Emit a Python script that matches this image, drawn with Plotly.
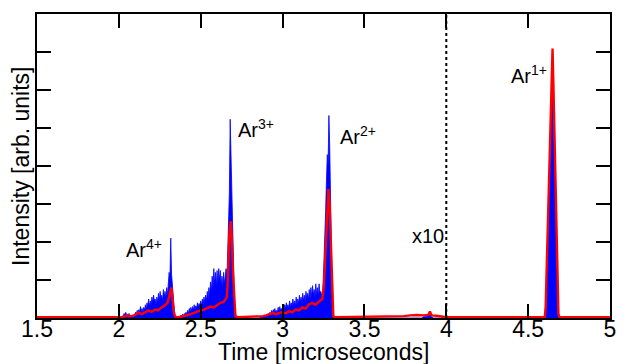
import numpy as np
import plotly.graph_objects as go

# ---------------- data ----------------
step = 0.005

# Ar4+ region, blue raw spectrum, starting at 2.002
ar4_start = 2.002
ar4_blue = [0.0, 0.0, 0.0, 0.0, 0.02, 0.05, 0.12, 0.06, 0.15, 0.08,
            0.10, 0.05, 0.12, 0.04, 0.08, 0.03, 0.05, 0.02, 0.04, 0.08,
            0.15, 0.10, 0.20, 0.12, 0.22, 0.15, 0.30, 0.18, 0.25, 0.12,
            0.28, 0.20, 0.35, 0.20, 0.40, 0.30, 0.50, 0.30, 0.45, 0.35,
            0.55, 0.40, 0.60, 0.45, 0.50, 0.35, 0.55, 0.40, 0.65, 0.45,
            0.70, 0.50, 0.60, 0.45, 0.75, 0.55, 0.70, 0.50, 0.80, 0.60,
            1.00, 1.20, 1.05, 2.10, 1.15, 0.90, 0.50, 0.20, 0.05, 0.02,
            0.0]

# Ar3+ region, starting at 2.360
ar3_start = 2.360
ar3_blue = [0.0, 0.02, 0.05, 0.02, 0.08, 0.03, 0.10, 0.05, 0.12, 0.08,
            0.15, 0.10, 0.20, 0.12, 0.25, 0.15, 0.28, 0.18, 0.30, 0.20,
            0.35, 0.22, 0.32, 0.25, 0.40, 0.28, 0.38, 0.30, 0.45, 0.32,
            0.50, 0.35, 0.55, 0.40, 0.60, 0.45, 0.70, 0.50, 0.80, 0.60,
            0.95, 0.70, 1.10, 0.80, 1.30, 0.90, 1.20, 0.85, 1.25, 0.90,
            1.30, 1.00, 1.25, 0.85, 1.10, 0.80, 1.20, 0.90, 1.05, 1.30,
            1.00, 1.60, 2.30, 3.30, 5.23, 4.20, 3.50, 1.90, 1.20, 0.60,
            0.15, 0.02, 0.0, 0.0]

# Ar2+ region, starting at 2.858
ar2_start = 2.858
ar2_blue = [0.0, 0.02, 0.0, 0.03, 0.02, 0.05, 0.03, 0.08, 0.04, 0.10,
            0.05, 0.12, 0.08, 0.15, 0.10, 0.20, 0.12, 0.22, 0.15, 0.25,
            0.12, 0.20, 0.15, 0.28, 0.18, 0.30, 0.20, 0.25, 0.18, 0.30,
            0.22, 0.35, 0.25, 0.40, 0.28, 0.35, 0.25, 0.45, 0.30, 0.40,
            0.30, 0.50, 0.32, 0.45, 0.30, 0.55, 0.35, 0.50, 0.38, 0.60,
            0.40, 0.55, 0.40, 0.65, 0.45, 0.60, 0.42, 0.70, 0.50, 0.65,
            0.48, 0.75, 0.50, 0.80, 0.55, 0.85, 0.60, 0.75, 0.55, 0.90,
            0.60, 0.80, 0.55, 0.90, 0.65, 0.70, 0.60, 0.55, 0.90, 1.40,
            2.00, 2.80, 3.60, 4.30, 4.00, 5.33, 4.50, 3.00, 1.60, 0.60,
            0.10, 0.02, 0.0]

# small bump before 4 us
bump_time = [3.850, 3.860, 3.880, 3.900, 3.910, 3.920]
bump_blue = [0.0, 0.03, 0.04, 0.10, 0.03, 0.0]

# Ar1+ region (x10), starting at 4.602
ar1_start = 4.602
ar1_blue = [0.0, 0.10, 0.80, 1.60, 2.40, 3.20, 4.00, 4.80, 5.60, 6.20,
            5.50, 4.80, 4.20, 3.20, 2.00, 0.80, 0.05, 0.0]

# smoothed (red) trace
red_time = [1.50, 2.00, 2.02, 2.05, 2.08, 2.10, 2.12, 2.14, 2.16, 2.18,
            2.20, 2.22, 2.24, 2.26, 2.28, 2.297, 2.307, 2.314, 2.320, 2.327,
            2.334, 2.342, 2.352, 2.37, 2.40, 2.42, 2.44, 2.46, 2.48, 2.50,
            2.52, 2.54, 2.56, 2.58, 2.60, 2.62, 2.64, 2.660, 2.668, 2.675,
            2.683, 2.690, 2.697, 2.705, 2.712, 2.725, 2.80, 2.85, 2.88, 2.90,
            2.92, 2.94, 2.96, 2.98, 3.00, 3.02, 3.04, 3.06, 3.08, 3.10,
            3.12, 3.14, 3.16, 3.18, 3.20, 3.22, 3.243, 3.253, 3.263, 3.273,
            3.280, 3.288, 3.296, 3.303, 3.310, 3.318, 3.70, 3.74, 3.78, 3.82,
            3.86, 3.89, 3.90, 3.91, 3.94, 3.97, 4.00, 4.59, 4.602, 4.607,
            4.617, 4.627, 4.637, 4.644, 4.649, 4.654, 4.662, 4.672, 4.680, 4.685,
            4.692, 5.00]
red_val = [0.02, 0.02, 0.03, 0.06, 0.05, 0.08, 0.14, 0.10, 0.15, 0.20,
           0.16, 0.22, 0.20, 0.28, 0.33, 0.40, 0.55, 0.75, 0.80, 0.55,
           0.20, 0.05, 0.02, 0.03, 0.05, 0.08, 0.10, 0.14, 0.18, 0.20,
           0.22, 0.25, 0.30, 0.28, 0.35, 0.40, 0.42, 0.55, 1.20, 2.20,
           2.55, 2.10, 1.20, 0.35, 0.04, 0.02, 0.03, 0.03, 0.05, 0.07,
           0.10, 0.13, 0.10, 0.14, 0.16, 0.12, 0.18, 0.15, 0.22, 0.20,
           0.28, 0.25, 0.35, 0.40, 0.35, 0.42, 0.50, 0.90, 1.80, 2.80,
           3.40, 2.90, 1.80, 0.70, 0.05, 0.02, 0.03, 0.05, 0.07, 0.08,
           0.07, 0.08, 0.17, 0.07, 0.06, 0.03, 0.02, 0.02, 0.03, 0.30,
           1.90, 3.50, 5.10, 6.30, 7.09, 6.20, 4.70, 2.80, 1.00, 0.10,
           0.02, 0.02]

x_ticks = [1.5, 2, 2.5, 3, 3.5, 4, 4.5, 5]
x_tick_labels = ["1.5", "2", "2.5", "3", "3.5", "4", "4.5", "5"]

labels = ["Ar<sup>4+</sup>", "Ar<sup>3+</sup>", "Ar<sup>2+</sup>", "Ar<sup>1+</sup>", "x10"]
label_x = [2.030, 2.718, 3.339, 4.380, 3.778]
label_y = [1.82, 5.00, 4.80, 6.42, 2.17]
split_time = 4.0

# ---------------- assemble blue trace ----------------
def seg(start, vals):
    return [round(start + step * i, 4) for i in range(len(vals))]

blue_time = [1.5] + seg(ar4_start, ar4_blue) + seg(ar3_start, ar3_blue) + \
            seg(ar2_start, ar2_blue) + bump_time + seg(ar1_start, ar1_blue) + [5.0]
blue_val = [0.0] + ar4_blue + ar3_blue + ar2_blue + bump_blue + ar1_blue + [0.0]

FONT = "Liberation Sans, Arial, sans-serif"

fig = go.Figure()
fig.add_trace(go.Scatter(x=blue_time, y=blue_val, mode="lines",
                         line=dict(color="#0000FF", width=0.8),
                         fill="tozeroy", fillcolor="#0000FF", showlegend=False))
fig.add_trace(go.Scatter(x=red_time, y=red_val, mode="lines",
                         line=dict(color="#FF0000", width=2.4), showlegend=False))

fig.add_shape(type="line", x0=split_time, x1=split_time, y0=0, y1=1,
              xref="x", yref="paper", line=dict(color="black", width=2, dash="dot"))

for t, lx, ly in zip(labels, label_x, label_y):
    fig.add_annotation(x=lx, y=ly, text=t, showarrow=False, xanchor="left",
                       yanchor="middle", font=dict(family=FONT, size=20, color="black"))

# axis titles
fig.add_annotation(x=0.5, y=-0.112, xref="paper", yref="paper", text="Time [microseconds]",
                   showarrow=False, xanchor="center", yanchor="middle",
                   font=dict(family=FONT, size=23, color="black"))
fig.add_annotation(x=-0.028, y=0.5, xref="paper", yref="paper", text="Intensity [arb. units]",
                   showarrow=False, xanchor="center", yanchor="middle", textangle=-90,
                   font=dict(family=FONT, size=23, color="black"))

fig.update_layout(
    width=628, height=364,
    margin=dict(l=37, r=16, t=12, b=46),
    paper_bgcolor="white", plot_bgcolor="white",
    font=dict(family=FONT, size=23, color="black"),
)
fig.update_xaxes(range=[1.5, 5], tickvals=x_ticks, ticktext=x_tick_labels,
                 ticks="inside", ticklen=14, tickwidth=1.5, tickcolor="black",
                 showline=True, linecolor="black", linewidth=1.5, mirror="ticks",
                 showgrid=False, zeroline=False, ticklabelstandoff=-10,
                 tickfont=dict(family=FONT, size=23, color="black"))
fig.update_yaxes(range=[0, 8], dtick=1, showticklabels=False,
                 ticks="inside", ticklen=14, tickwidth=1.5, tickcolor="black",
                 showline=True, linecolor="black", linewidth=1.5, mirror="ticks",
                 showgrid=False, zeroline=False)

fig.write_html("out.html", config={"displayModeBar": False},
               post_script="document.body.style.margin='0';document.body.style.padding='0';")
